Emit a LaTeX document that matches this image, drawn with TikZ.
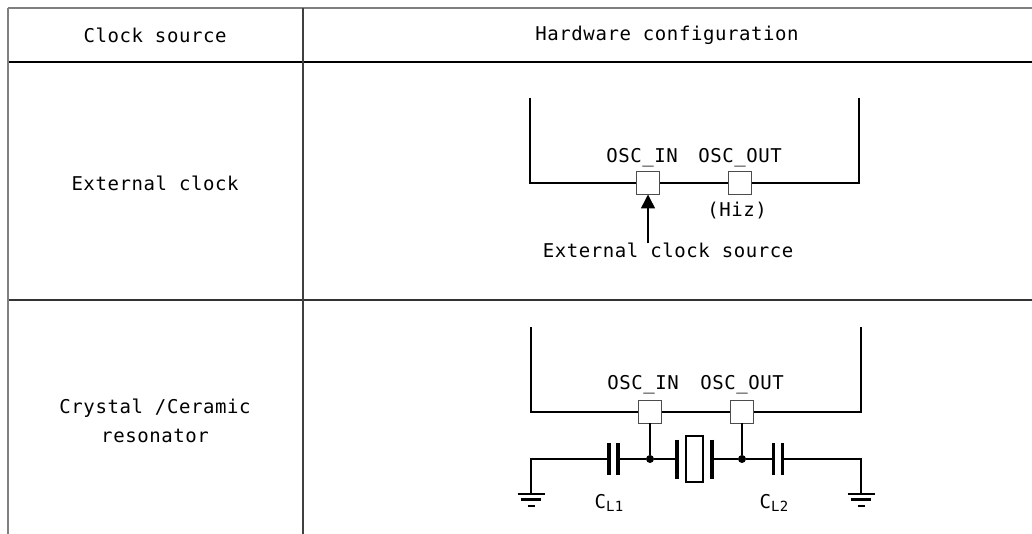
\documentclass[tikz,border=0pt]{standalone}
\usepackage{fontspec}
\setmonofont[LetterSpace=3]{DejaVu Sans Mono}
\usetikzlibrary{positioning, arrows.meta}

\tikzset{ground/.pic={
    \draw[line width=2.2pt] (-13.5,0) -- (13.5,0) (-10,5.5) -- (10,5.5) (-3.5,12) -- (3.5,12);
}}

\begin{document}
\begin{tikzpicture}[
    x=1pt, y=-1pt,
    every node/.style={font=\ttfamily\fontsize{19}{29}\selectfont, inner sep=0pt, outer sep=0pt},
    pin/.style={draw=black!70, fill=white, minimum size=23pt, line width=1pt},
    dot/.style={circle, fill, minimum size=8pt},
    capbox/.style={minimum width=9pt, minimum height=32pt},
    sub/.style={font=\ttfamily\fontsize{14}{14}\selectfont},
    wire/.style={line width=1.5pt},
    frame/.style={line width=2.5pt},
    plate/.style={line width=3.2pt},
    tableline/.style={line width=1.6pt}
]
    \useasboundingbox (0,0) rectangle (1032,534);

    % table
    \draw[tableline, gray] (8,8) -- (1032,8);
    \draw[tableline] (8,62) -- (1032,62);
    \draw[tableline, black!80] (8,300) -- (1032,300);
    \draw[tableline, gray] (8,8) -- (8,534);
    \draw[tableline, black!75] (303,8) -- (303,534);

    \node (hsrc) at (155,35) {Clock source};
    \node (hcfg) at (667,35) {Hardware configuration};
    \node (ext) at (155,183) {External clock};
    \node[align=center] (xtal) at (155,421) {Crystal /Ceramic\\resonator};

    % external clock
    \coordinate (tl1) at (530,98);
    \coordinate (bl1) at (530,183);
    \coordinate (br1) at (859,183);
    \coordinate (tr1) at (859,98);
    \draw[frame] (tl1) -- (bl1) -- (br1) -- (tr1);
    \node[pin] (in1) at (648,183) {};
    \node[pin] (out1) at (740,183) {};
    \node[anchor=base] (lin1) at (642,163) {OSC\_IN};
    \node[anchor=base] (lout1) at (740,163) {OSC\_OUT};
    \node[anchor=base] (hiz) at (737,217) {(Hiz)};
    \node[anchor=base] (extsrc) at (668,258) {External clock source};
    \draw[wire, -{Triangle[length=14pt, width=14pt]}] (extsrc.north -| in1) -- (in1.south);

    % crystal / ceramic resonator
    \coordinate (tl2) at (531,327);
    \coordinate (bl2) at (531,412);
    \coordinate (br2) at (861,412);
    \coordinate (tr2) at (861,327);
    \draw[frame] (tl2) -- (bl2) -- (br2) -- (tr2);
    \node[pin] (in2) at (650,411.5) {};
    \node[pin] (out2) at (742,411.5) {};
    \node[anchor=base] (lin2) at (643,389) {OSC\_IN};
    \node[anchor=base] (lout2) at (742,389) {OSC\_OUT};

    \coordinate (gl) at (531,459);
    \coordinate (gr) at (861,459);
    \coordinate (gl2) at (531,494);
    \coordinate (gr2) at (861,494);
    \node[capbox] (cl1) at (613.5,459) {};
    \node[capbox] (cl2) at (778,459) {};
    \node[minimum width=35pt, minimum height=39pt] (xt) at (694.5,459) {};
    \node[draw, line width=2.5pt, minimum width=17pt, minimum height=46pt] (xr) at (694.5,459) {};
    \node[dot] (j1) at (650,459) {};
    \node[dot] (j2) at (742,459) {};

    \draw[plate] (cl1.north west) -- (cl1.south west) (cl1.north east) -- (cl1.south east);
    \draw[plate] (cl2.north west) -- (cl2.south west) (cl2.north east) -- (cl2.south east);
    \draw[plate] (xt.north west) -- (xt.south west) (xt.north east) -- (xt.south east);

    \draw[wire] (gl2) -- (gl) -- (cl1.west);
    \draw[wire] (cl1.east) -- (j1) -- (xt.west);
    \draw[wire] (xt.east) -- (j2) -- (cl2.west);
    \draw[wire] (cl2.east) -- (gr) -- (gr2);
    \draw[wire] (in2.south) -- (j1);
    \draw[wire] (out2.south) -- (j2);
    \pic at (gl2) {ground};
    \pic at (gr2) {ground};

    \node[anchor=base east] (lcl1) at (606,508) {C};
    \node[sub, anchor=base west] (scl1) at (lcl1.base east) {\raisebox{-3pt}{L1}};
    \node[anchor=base east] (lcl2) at (771,508) {C};
    \node[sub, anchor=base west] (scl2) at (lcl2.base east) {\raisebox{-3pt}{L2}};
\end{tikzpicture}
\end{document}
